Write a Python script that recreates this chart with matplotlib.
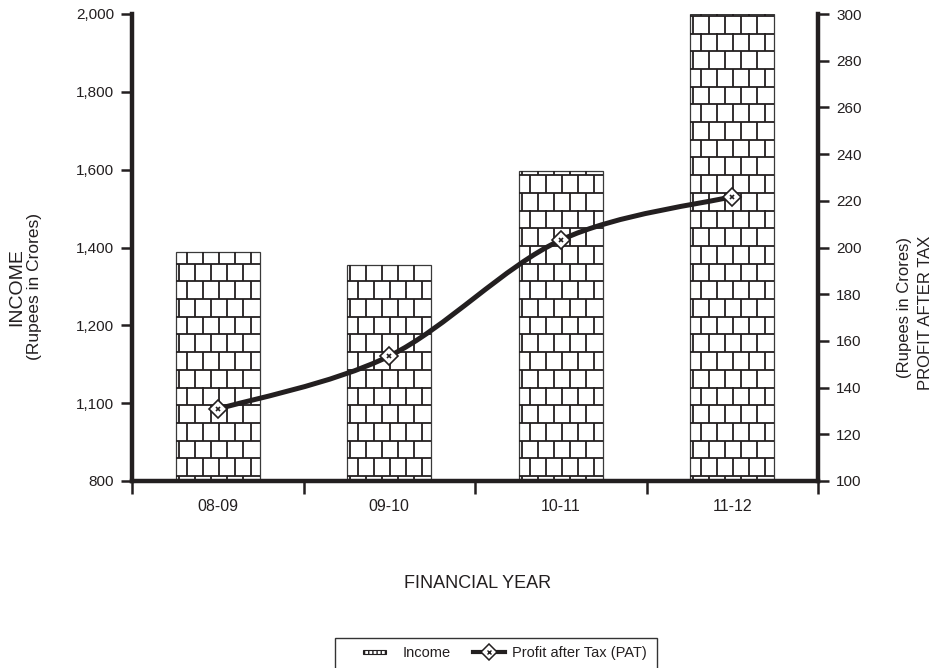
import matplotlib
matplotlib.use('Agg')
import matplotlib.pyplot as plt
import numpy as np
from matplotlib.path import Path
from matplotlib.patches import PathPatch, Rectangle, Patch
from matplotlib.lines import Line2D
from matplotlib.collections import LineCollection
from matplotlib.legend_handler import HandlerPatch

plt.rcParams['font.family'] = ['Liberation Sans', 'DejaVu Sans']

# ---- data ----
years = ['08-09', '09-10', '10-11', '11-12']
income = [1388, 1355, 1597, 2000]
pat = [130.8, 153.5, 203.2, 221.8]
income_ticks = [800, 1000, 1200, 1400, 1600, 1800, 2000]
income_tick_labels = ['800', '1,100', '1,200', '1,400', '1,600', '1,800', '2,000']
pat_ticks = list(range(100, 301, 20))

DARK = '#231f20'
W, H = 943, 668
fig = plt.figure(figsize=(W / 100, H / 100), dpi=100)
ax = fig.add_axes([132 / W, 1 - 481 / H, (818 - 132) / W, (481 - 14) / H])
ax2 = ax.twinx()

x = np.arange(len(years))
ax.set_xlim(-0.5, 3.5)
ax.set_ylim(800, 2000)
ax2.set_ylim(100, 300)

bars = ax.bar(x, income, width=0.49, facecolor='white', edgecolor='#3a3a3a',
              linewidth=0.9, zorder=2)

# brick pattern inside bars (pattern geometry only)
px_per_x = (818 - 132) / 4.0
px_per_y = (481 - 14) / 1200.0
ROW = 17.7 / px_per_y
OFF = 5.0 / px_per_y
BW = 16.0 / px_per_x
segs = []
ybase = ax.get_ylim()[0]
for b in bars:
    x0, w, top = b.get_x(), b.get_width(), b.get_height()
    x1 = x0 + w
    k = -1
    while True:
        yb = ybase + OFF + ROW * k
        if yb >= top:
            break
        yt = min(yb + ROW, top)
        ylo = max(yb, ybase)
        if yb > ybase:
            segs.append([(x0, yb), (x1, yb)])
        off = (11.0 if k % 2 == 0 else 3.0) / px_per_x
        xs = x0 + off + BW * np.arange(0, 12)
        for xv in xs[xs < x1 - 0.01]:
            segs.append([(xv, ylo), (xv, yt)])
        k += 1
ax.add_collection(LineCollection(segs, colors=DARK, linewidths=1.3, zorder=3))

# smooth PAT line (Catmull-Rom as Bezier)
pts = np.column_stack([x, pat]).astype(float)
verts = [tuple(pts[0])]
codes = [Path.MOVETO]
n = len(pts)
for i in range(n - 1):
    p0 = pts[i - 1] if i > 0 else pts[i]
    p1 = pts[i]
    p2 = pts[i + 1]
    p3 = pts[i + 2] if i + 2 < n else pts[i + 1]
    c1 = p1 + (p2 - p0) / 6
    c2 = p2 - (p3 - p1) / 6
    verts += [tuple(c1), tuple(c2), tuple(p2)]
    codes += [Path.CURVE4] * 3
ax2.add_patch(PathPatch(Path(verts, codes), fill=False, edgecolor=DARK,
                        lw=3.6, capstyle='butt', zorder=4))
ax2.plot(x, pat, linestyle='none', marker='D', ms=9, mfc='white', mec=DARK,
         mew=1.2, zorder=5)
ax2.plot(x, pat, linestyle='none', marker='x', ms=3.5, mec=DARK, mew=1.2,
         zorder=6)

# spines
for s in ['top', 'right']:
    ax.spines[s].set_visible(False)
for s in ['top', 'left', 'bottom']:
    ax2.spines[s].set_visible(False)
for sp in [ax.spines['left'], ax.spines['bottom'], ax2.spines['right']]:
    sp.set_linewidth(3.2)
    sp.set_color(DARK)

# ticks
ax.set_xticks([-0.5, 0.5, 1.5, 2.5, 3.5])
ax.set_xticklabels([])
ax.set_xticks(x, minor=True)
ax.set_xticklabels(years, minor=True)
ax.tick_params(axis='x', which='major', length=9, width=1.8, color=DARK,
               direction='out')
ax.tick_params(axis='x', which='minor', length=0, pad=13, labelsize=11.5,
               labelcolor=DARK)
ax.set_yticks(income_ticks)
ax.set_yticklabels(income_tick_labels)
ax.tick_params(axis='y', length=8, width=1.8, color=DARK, pad=5,
               labelsize=11, labelcolor=DARK)
ax2.set_yticks(pat_ticks)
ax2.tick_params(axis='y', length=8, width=1.8, color=DARK, pad=5,
                labelsize=11, labelcolor=DARK)

# axis titles
fig.text(17 / W, 1 - 287 / H, 'INCOME', rotation=90, ha='center', va='center',
         fontsize=14, color=DARK)
fig.text(35 / W, 1 - 287 / H, '(Rupees in Crores)', rotation=90, ha='center',
         va='center', fontsize=12.5, color=DARK)
fig.text(905 / W, 1 - 308 / H, '(Rupees in Crores)', rotation=90, ha='center',
         va='center', fontsize=12, color=DARK)
fig.text(926 / W, 1 - 313 / H, 'PROFIT AFTER TAX', rotation=90, ha='center',
         va='center', fontsize=12, color=DARK)
fig.text(478 / W, 1 - 583 / H, 'FINANCIAL YEAR', ha='center', va='center',
         fontsize=13, color=DARK)

# legend
def thin_rect(legend, orig_handle, xdescent, ydescent, width, height, fontsize):
    return Rectangle((-xdescent, -ydescent + height * 0.25), width * 0.72,
                     height * 0.45)

inc_handle = Patch(facecolor='white', edgecolor=DARK, hatch='||||', lw=0.8,
                   label='Income')
pat_line = Line2D([], [], color=DARK, lw=3, marker='D', ms=8, mfc='white',
                  mec=DARK, mew=1.1)
pat_x = Line2D([], [], ls='none', marker='x', ms=3, mec=DARK, mew=1.0)
fig.legend(handles=[inc_handle, (pat_line, pat_x)],
           labels=['Income', 'Profit after Tax (PAT)'],
           loc='center', bbox_to_anchor=(505 / W, 1 - 653 / H), ncol=2,
           frameon=False, fontsize=10.5, labelcolor=DARK,
           handler_map={Patch: HandlerPatch(patch_func=thin_rect)},
           handlelength=2.2, handletextpad=0.5, columnspacing=1.5)
fig.add_artist(Rectangle((335 / W, 1 - 675 / H), (657 - 335) / W,
                         (675 - 638) / H, transform=fig.transFigure,
                         fill=False, edgecolor='#333333', lw=1.0))

fig.savefig('out.png', dpi=100)
